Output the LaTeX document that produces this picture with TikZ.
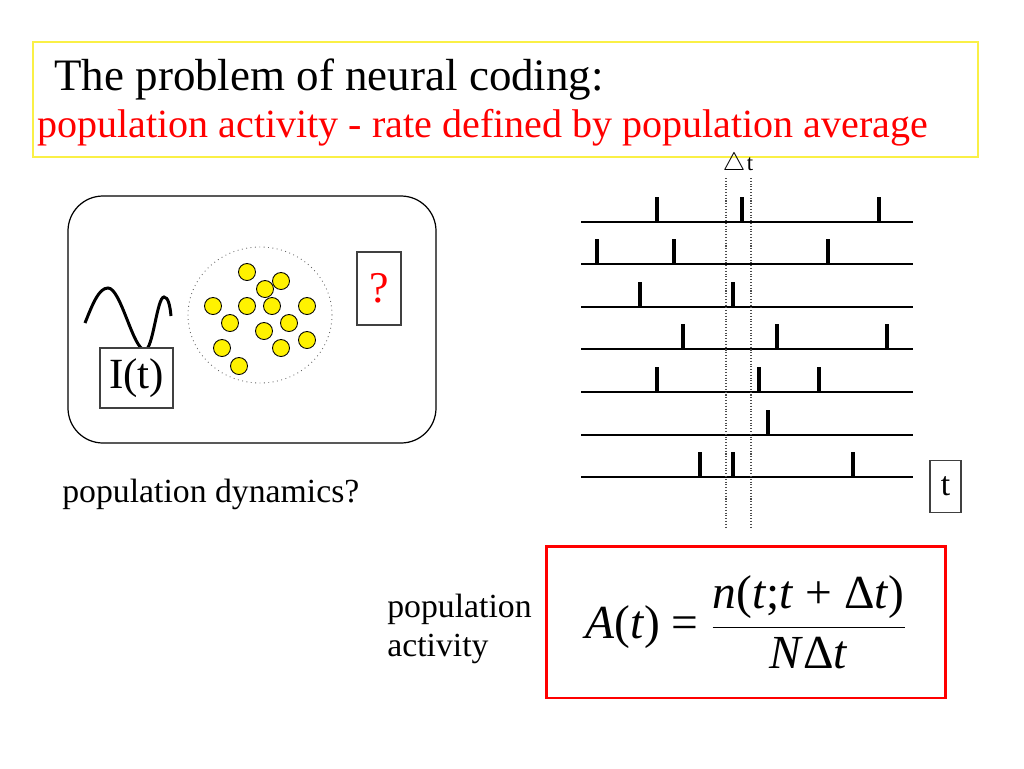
\documentclass[tikz,border=0pt]{standalone}
\usepackage{fontspec}
\setmainfont{Liberation Serif}
\usetikzlibrary{positioning}
\definecolor{headyellow}{RGB}{250,240,70}

\begin{document}
\begin{tikzpicture}[x=0.02cm,y=-0.02cm,
    txt/.style={inner sep=0pt,anchor=base west},
    neuron/.style={draw,circle,fill=yellow,inner sep=0pt,minimum size=0.34cm,line width=0.5pt},
    frame/.style={draw=black!75,line width=0.6pt,inner sep=0pt},
    spike/.style={line width=2pt},
    train/.style={line width=0.8pt}]
  \useasboundingbox (0,0) rectangle (1024,768);

  % heading
  \draw[headyellow,line width=0.7pt] (33,42) rectangle (978,157);
  \node[txt,font=\fontsize{25.6}{30}\selectfont] (title) at (54,90) {The problem of neural coding:};
  \node[txt,text=red,font=\fontsize{22.8}{27}\selectfont] (subtitle) at (37,137)
    {population activity - rate defined by population average};

  % population box
  \draw[line width=0.7pt,rounded corners=0.7cm] (68,196) rectangle (436,443);
  \draw[line width=1.7pt] (85,323) .. controls (93,303) and (99,288) .. (108,288)
    .. controls (121,288) and (133,350) .. (145,350)
    .. controls (153,350) and (157,297) .. (164,297)
    .. controls (168,297) and (170,305) .. (171,316);
  \node[frame,fill=white,minimum width=1.46cm,minimum height=1.2cm,
        font=\fontsize{24.5}{28}\selectfont] (input) at (136.5,378) {I(t)};
  \draw[black!60,dotted,line width=0.5pt] (260,315) ellipse [x radius=1.44cm,y radius=1.36cm];
  \foreach \x/\y [count=\i] in {247/272,281/281,265/289,213/306,247/306,272/306,307/306,
                                230/323,289/323,264/331,307/340,222/348,281/348,239/366}
    \node[neuron] (n\i) at (\x,\y) {};
  \node[frame,minimum width=0.88cm,minimum height=1.46cm,text=red,
        font=\fontsize{25}{28}\selectfont] (out) at (379,288.5) {?};
  \node[txt,font=\fontsize{19.2}{23}\selectfont] (dyn) at (62,502) {population dynamics?};

  % spike trains
  \foreach \y/\xs in {222/{657,742,879},264/{597,674,828},307/{640,733},349/{683,777,887},
                      392/{657,759,819},435/{768},477/{700,733,853}}{
    \draw[train] (581,\y) -- (913,\y);
    \foreach \x in \xs
      \draw[spike] (\x,\y) -- (\x,\y-25);
  }
  \draw[black!70,densely dotted,line width=0.6pt] (726,178) -- (726,528);
  \draw[black!70,densely dotted,line width=0.6pt] (751,178) -- (751,528);
  \node[inner sep=0pt,font=\fontsize{14}{14}\selectfont] (tri) at (734,164) {$\triangle$};
  \node[inner sep=0pt,font=\fontsize{13}{13}\selectfont,right=0.5pt of tri.base east,anchor=base west] (dt) {t};
  \node[frame,minimum width=0.62cm,minimum height=1.04cm,
        font=\fontsize{19.2}{23}\selectfont] (time) at (945.5,486.5) {t};

  % activity
  \node[txt,font=\fontsize{19.2}{23}\selectfont] (pop) at (387,617) {population};
  \node[txt,font=\fontsize{19.2}{23}\selectfont] (act) at ([yshift=-0.78cm]pop.base west) {activity};
  \node[draw=red,line width=1.7pt,minimum width=8cm,minimum height=3.04cm,
        font=\fontsize{27}{32}\selectfont] (formula) at (746,622)
    {$\displaystyle\mbox{\textit{A}(\textit{t}) =}\ \frac{\mbox{\textit{n}(\textit{t};\textit{t} + Δ\textit{t})}}{\mbox{\textit{N}Δ\textit{t}}}$};
\end{tikzpicture}
\end{document}
